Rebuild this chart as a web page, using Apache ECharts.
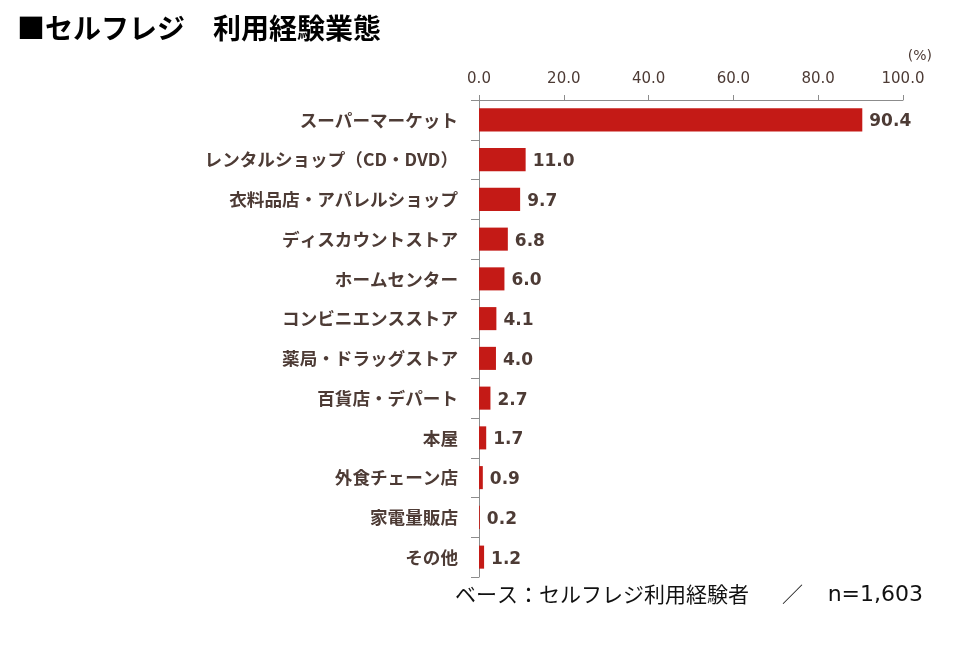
<!DOCTYPE html>
<html>
<head>
<meta charset="utf-8">
<script src="https://cdn.jsdelivr.net/npm/echarts@6/dist/echarts.min.js"></script>
<style>
  html, body { margin: 0; padding: 0; background: #fff; }
  #chart { width: 960px; height: 650px; }
</style>
</head>
<body>
<div id="chart"></div>
<script>
// 業態とその利用経験率（%）
const categories = [
  'スーパーマーケット',
  'レンタルショップ（CD・DVD）',
  '衣料品店・アパレルショップ',
  'ディスカウントストア',
  'ホームセンター',
  'コンビニエンスストア',
  '薬局・ドラッグストア',
  '百貨店・デパート',
  '本屋',
  '外食チェーン店',
  '家電量販店',
  'その他'
];
const values = [90.4, 11.0, 9.7, 6.8, 6.0, 4.1, 4.0, 2.7, 1.7, 0.9, 0.2, 1.2];
const xTicks = [0, 20, 40, 60, 80, 100];

const textColor = '#4d3b35';
const jpFont = '"Noto Sans CJK JP", sans-serif';
const numFont = '"DejaVu Sans", sans-serif';

const chart = echarts.init(document.getElementById('chart'));
const option = {
  animation: false,
  title: {
    text: '■セルフレジ　利用経験業態',
    left: 12,
    top: 9,
    textStyle: { color: '#000', fontSize: 28, fontWeight: 'bold', fontFamily: jpFont }
  },
  grid: { left: 479, right: 57, top: 100, bottom: 73, containLabel: false },
  xAxis: {
    type: 'value',
    position: 'top',
    min: xTicks[0],
    max: xTicks[xTicks.length - 1],
    interval: 20,
    splitLine: { show: false },
    axisLine: { show: true, lineStyle: { color: '#8c8c8c', width: 1 } },
    axisTick: { show: true, length: 5, lineStyle: { color: '#8c8c8c' } },
    axisLabel: {
      color: textColor,
      fontSize: 15,
      fontFamily: numFont,
      margin: 13,
      formatter: v => v.toFixed(1)
    }
  },
  yAxis: {
    type: 'category',
    inverse: true,
    data: categories,
    axisLine: { show: true, lineStyle: { color: '#8c8c8c', width: 1 } },
    axisTick: { show: true, length: 8, lineStyle: { color: '#8c8c8c' } },
    axisLabel: {
      color: textColor,
      fontSize: 17.6,
      fontWeight: 'bold',
      fontFamily: jpFont,
      margin: 21
    }
  },
  series: [{
    type: 'bar',
    data: values,
    barCategoryGap: '42%',
    itemStyle: { color: '#c41a16' },
    label: {
      show: true,
      position: 'right',
      distance: 7,
      offset: [0, 2],
      color: textColor,
      fontSize: 17,
      fontWeight: 'bold',
      fontFamily: numFont,
      formatter: p => p.value.toFixed(1)
    }
  }],
  graphic: [
    {
      type: 'text',
      right: 28,
      top: 49,
      style: { text: '(%)', fill: textColor, font: '14px ' + numFont }
    },
    {
      type: 'text',
      left: 455,
      top: 584,
      style: { text: 'ベース：セルフレジ利用経験者', fill: '#111', font: '21px ' + jpFont }
    },
    {
      type: 'text',
      left: 782,
      top: 584,
      style: { text: '／', fill: '#111', font: '21px ' + jpFont }
    },
    {
      type: 'text',
      right: 37,
      top: 584,
      style: { text: 'n=1,603', fill: '#111', font: '22px ' + numFont }
    }
  ]
};
chart.setOption(option);
</script>
</body>
</html>
